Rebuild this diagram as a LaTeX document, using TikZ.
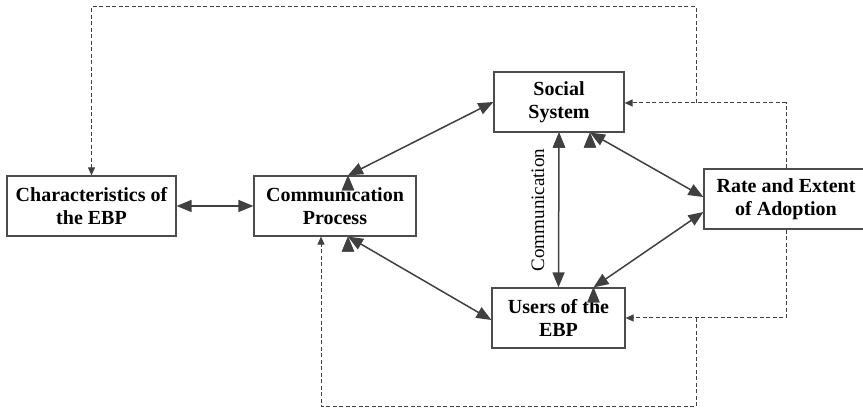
\documentclass[tikz,border=0pt]{standalone}
\usepackage{fontspec}
\setmainfont{Liberation Serif}
\usetikzlibrary{arrows.meta}

\begin{document}
\begin{tikzpicture}[x=1pt, y=1pt, draw=black!75]
			\tikzstyle{box}=[draw=black!70, line width=1.2pt, fill=white, minimum height=60pt, inner sep=0pt, align=center, font=\fontsize{20}{23}\selectfont\bfseries]
			\tikzstyle{link}=[{Triangle[length=15pt,width=12pt]}-{Triangle[length=15pt,width=12pt]}, line width=1.5pt, draw=black!75]
			\tikzstyle{feedback}=[-{Triangle[length=8pt,width=7pt]}, line width=1pt, dash pattern=on 4pt off 2.5pt, draw=black!75]
			\useasboundingbox (0,0) rectangle (863,411);
			
			% Draw boxes
			\node[box, minimum width=169pt] (ebp) at (91.5,205) {Characteristics of\\the EBP};
			\node[box, minimum width=162pt] (commproc) at (335,205) {Communication\\Process};
			\node[box, minimum width=130pt] (social) at (559,309) {Social\\System};
			\node[box, minimum width=133pt] (users) at (558.5,93) {Users of the\\EBP};
			\node[box, minimum width=164pt] (rate) at (786,212) {Rate and Extent\\of Adoption};
			\node[rotate=90, font=\fontsize{19}{22}\selectfont] (commlabel) at (538,201) {Communication};
			
			% Draw arrows
			\path[link] (ebp) edge (commproc);
			\path[link] ([xshift=13pt]commproc.north) edge (social.west);
			\path[link] ([xshift=13pt]commproc.south) edge ([yshift=-2pt]users.west);
			\path[link] (social.south) edge (users.north);
			\path[link] ([xshift=31pt]social.south) edge ([yshift=2pt]rate.west);
			\path[link] ([xshift=35pt]users.north) edge ([yshift=-13pt]rate.west);
			
			% Draw feedback
			\coordinate (upbranch) at (696,308);
			\coordinate (topcorner) at (696,404);
			\coordinate (lowbranch) at (696,93);
			\coordinate (bottomcorner) at (696,4);
			\draw[feedback] (rate.north) |- ([yshift=-1pt]social.east);
			\draw[feedback] (upbranch) -- (topcorner) -| (ebp.north);
			\draw[feedback] (rate.south) |- (users.east);
			\draw[feedback] (lowbranch) -- (bottomcorner) -| ([xshift=-14pt]commproc.south);
			
		\end{tikzpicture}
\end{document}
